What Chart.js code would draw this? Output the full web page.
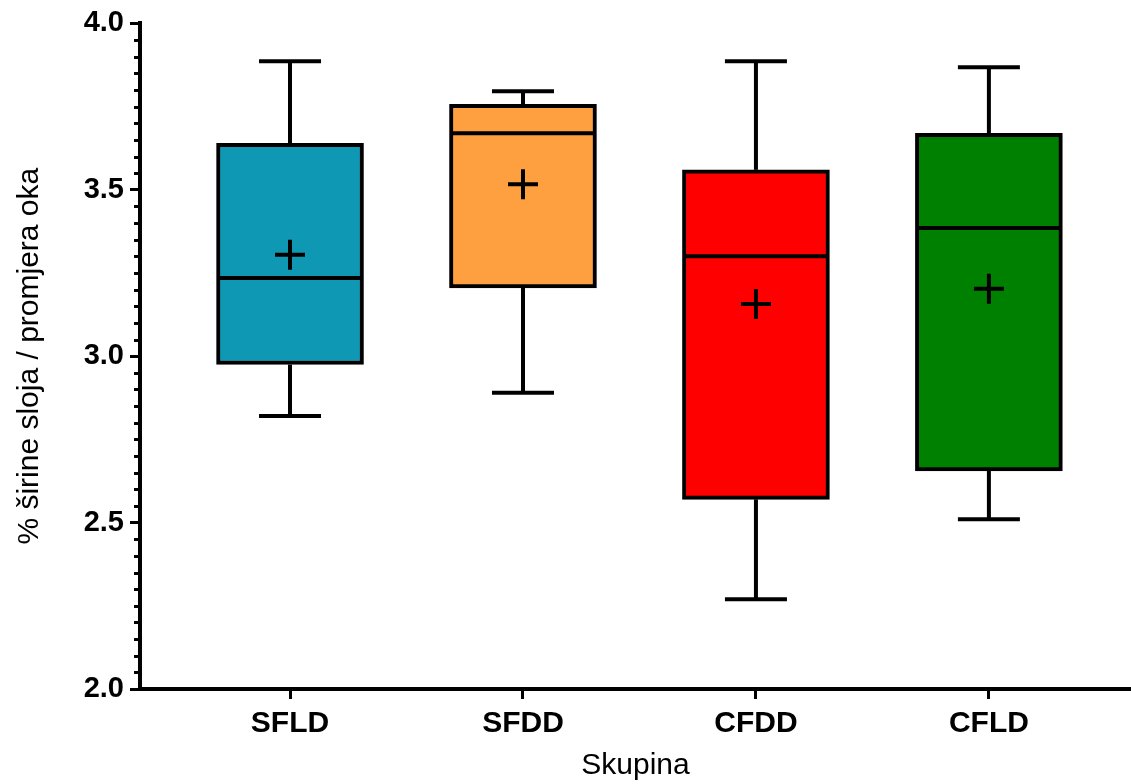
<!DOCTYPE html>
<html>
<head>
<meta charset="utf-8">
<title>Skupina box plot</title>
<script src="https://cdn.jsdelivr.net/npm/chart.js@4.4.0/dist/chart.umd.min.js"></script>
<style>
    html, body { margin: 0; padding: 0; background: #fff; }
    #wrap { width: 1131px; height: 784px; position: relative; }
</style>
</head>
<body>
<div id="wrap"><canvas id="boxChart"></canvas></div>
<script>
// Group names and box plot statistics
const groups = ['SFLD', 'SFDD', 'CFDD', 'CFLD'];
const minVals = [2.82, 2.89, 2.27, 2.51];
const q1Vals = [2.975, 3.205, 2.57, 2.655];
const medianVals = [3.235, 3.67, 3.30, 3.385];
const q3Vals = [3.64, 3.757, 3.56, 3.67];
const maxVals = [3.886, 3.796, 3.886, 3.868];
const meanVals = [3.305, 3.517, 3.157, 3.203];
const boxColors = ['#0f98b3', '#ffa040', '#ff0000', '#008000'];

const fontFamily = "'Liberation Sans', Arial, Helvetica, sans-serif";

function isMajor(v) {
    return Math.abs(v * 2 - Math.round(v * 2)) < 1e-6;
}

// whiskers, caps and median lines, placed through the chart scales
const boxExtras = {
    id: 'boxExtras',
    afterDatasetsDraw(chart) {
        const { ctx, scales: { x, y } } = chart;
        const meta = chart.getDatasetMeta(0);
        const capHalf = 31;
        ctx.save();
        ctx.strokeStyle = '#000';
        ctx.lineWidth = 4;
        const line = (x1, y1, x2, y2) => {
            ctx.beginPath();
            ctx.moveTo(x1, y1);
            ctx.lineTo(x2, y2);
            ctx.stroke();
        };
        groups.forEach((g, i) => {
            const bar = meta.data[i];
            const cx = x.getPixelForValue(i + 1);
            const half = bar.width / 2;
            const yMax = y.getPixelForValue(maxVals[i]);
            const yMin = y.getPixelForValue(minVals[i]);
            line(cx, y.getPixelForValue(q3Vals[i]), cx, yMax);
            line(cx, y.getPixelForValue(q1Vals[i]), cx, yMin);
            line(cx - capHalf, yMax, cx + capHalf, yMax);
            line(cx - capHalf, yMin, cx + capHalf, yMin);
            const yMed = y.getPixelForValue(medianVals[i]);
            line(cx - half + 1, yMed, cx + half - 1, yMed);
        });
        ctx.restore();
    },
    afterDraw(chart) {
        // short minor ticks on the y axis
        const { ctx, scales: { y } } = chart;
        ctx.save();
        ctx.strokeStyle = '#000';
        ctx.lineWidth = 3;
        y.ticks.forEach(t => {
            if (isMajor(t.value)) return;
            const py = Math.round(y.getPixelForValue(t.value)) + 0.5;
            ctx.beginPath();
            ctx.moveTo(y.right - 6, py);
            ctx.lineTo(y.right, py);
            ctx.stroke();
        });
        ctx.restore();
    }
};

const ctx = document.getElementById('boxChart').getContext('2d');
new Chart(ctx, {
    type: 'bar',
    data: {
        datasets: [
            {
                type: 'bar',
                order: 2,
                data: groups.map((g, i) => ({ x: i + 1, y: [q1Vals[i], q3Vals[i]] })),
                backgroundColor: boxColors,
                borderColor: '#000',
                borderWidth: 4,
                borderSkipped: false,
                barThickness: 147
            },
            {
                type: 'scatter',
                order: 1,
                data: groups.map((g, i) => ({ x: i + 1, y: meanVals[i] })),
                pointStyle: 'cross',
                radius: 15,
                borderWidth: 4,
                borderColor: '#000',
                showLine: false
            }
        ]
    },
    options: {
        responsive: true,
        maintainAspectRatio: false,
        animation: false,
        layout: { autoPadding: false, padding: { top: 23, right: 0, bottom: 0, left: 0 } },
        plugins: {
            legend: { display: false },
            tooltip: { enabled: false }
        },
        scales: {
            x: {
                type: 'linear',
                min: 0.356,
                max: 4.61,
                offset: false,
                grid: {
                    display: true,
                    offset: false,
                    drawOnChartArea: false,
                    tickLength: 10,
                    tickWidth: 3,
                    tickColor: '#000'
                },
                border: { display: true, color: '#000', width: 4 },
                afterBuildTicks: scale => {
                    scale.ticks = groups.map((g, i) => ({ value: i + 1 }));
                },
                afterFit: scale => { scale.height = 95; },
                ticks: {
                    color: '#000',
                    padding: 7,
                    maxRotation: 0,
                    autoSkip: false,
                    font: { family: fontFamily, size: 30, weight: 'bold' },
                    callback: v => groups[v - 1] || ''
                },
                title: {
                    display: true,
                    text: 'Skupina',
                    color: '#000',
                    padding: { top: 0, bottom: 0 },
                    font: { family: fontFamily, size: 30 }
                }
            },
            y: {
                min: 2,
                max: 4,
                grid: {
                    display: true,
                    drawOnChartArea: false,
                    tickLength: 10,
                    tickWidth: 3,
                    tickColor: c => isMajor(c.tick.value) ? '#000' : 'rgba(0,0,0,0)'
                },
                border: { display: true, color: '#000', width: 4 },
                afterFit: scale => { scale.width = 140; },
                ticks: {
                    stepSize: 0.05,
                    autoSkip: false,
                    color: '#000',
                    padding: 6,
                    font: { family: fontFamily, size: 29, weight: 'bold' },
                    callback: v => isMajor(v) ? v.toFixed(1) : ''
                },
                title: {
                    display: true,
                    text: '% širine sloja / promjera oka',
                    color: '#000',
                    padding: { top: 12, bottom: 0 },
                    font: { family: fontFamily, size: 30 }
                }
            }
        }
    },
    plugins: [boxExtras]
});
</script>
</body>
</html>
